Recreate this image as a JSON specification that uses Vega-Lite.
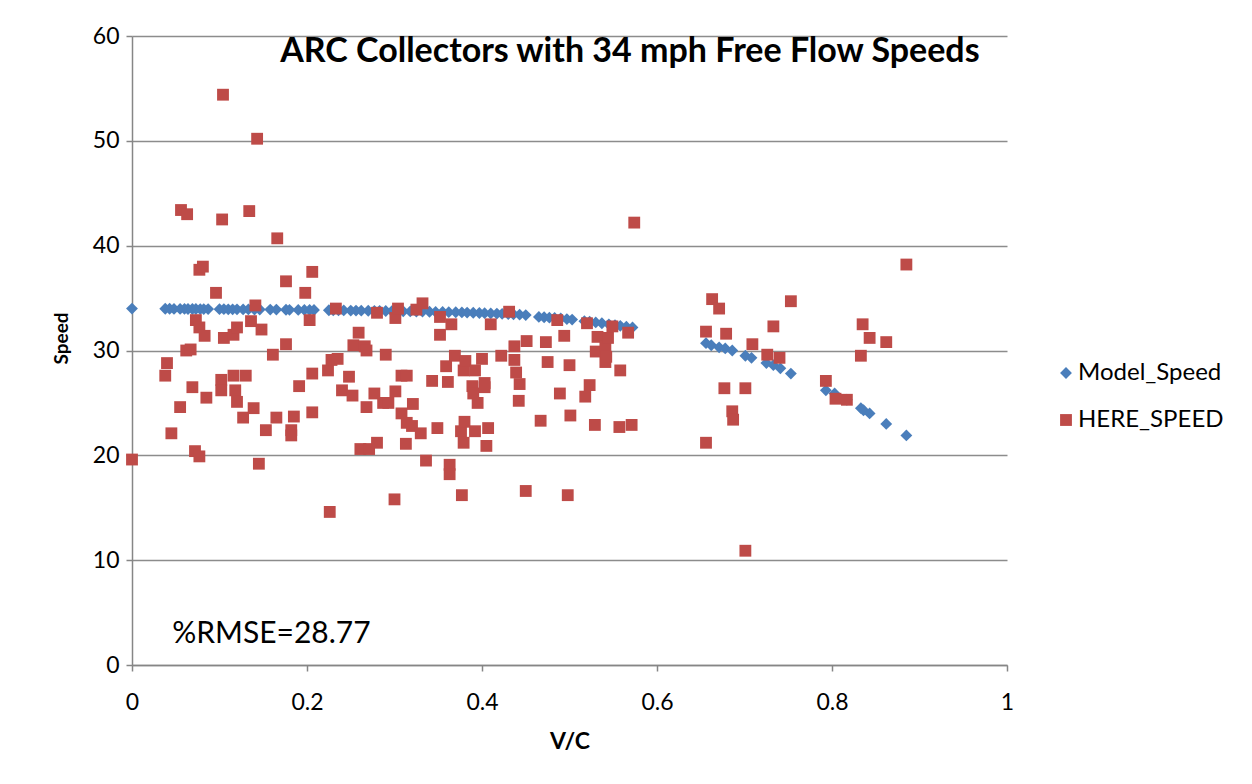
{
  "$schema": "https://vega.github.io/schema/vega-lite/v6.json",
  "width": 875,
  "height": 629,
  "autosize": {"type": "none"},
  "padding": {"left": 132, "top": 36, "right": 245, "bottom": 119},
  "background": "white",
  "config": {
    "view": {"stroke": null},
    "axis": {
      "labelFont": "Lato",
      "titleFont": "Lato",
      "labelFontSize": 23,
      "labelColor": "black",
      "titleFontSize": 21,
      "titleFontWeight": "bold",
      "titleColor": "black",
      "domainColor": "#868686",
      "domainWidth": 1.5,
      "tickColor": "#868686",
      "tickWidth": 1.5,
      "tickSize": 6,
      "gridColor": "#8c8c8c",
      "gridWidth": 1.5
    },
    "legend": {
      "labelFont": "Lato",
      "labelFontSize": 24,
      "labelColor": "black"
    }
  },
  "layer": [
    {
      "data": {
        "values": [
          {"vc": 0.0, "speed": 34.0, "series": "Model_Speed"},
          {"vc": 0.038, "speed": 33.98, "series": "Model_Speed"},
          {"vc": 0.043, "speed": 33.98, "series": "Model_Speed"},
          {"vc": 0.048, "speed": 33.97, "series": "Model_Speed"},
          {"vc": 0.055, "speed": 33.97, "series": "Model_Speed"},
          {"vc": 0.06, "speed": 33.97, "series": "Model_Speed"},
          {"vc": 0.064, "speed": 33.96, "series": "Model_Speed"},
          {"vc": 0.069, "speed": 33.96, "series": "Model_Speed"},
          {"vc": 0.073, "speed": 33.96, "series": "Model_Speed"},
          {"vc": 0.078, "speed": 33.95, "series": "Model_Speed"},
          {"vc": 0.082, "speed": 33.95, "series": "Model_Speed"},
          {"vc": 0.087, "speed": 33.95, "series": "Model_Speed"},
          {"vc": 0.1, "speed": 33.94, "series": "Model_Speed"},
          {"vc": 0.105, "speed": 33.94, "series": "Model_Speed"},
          {"vc": 0.11, "speed": 33.93, "series": "Model_Speed"},
          {"vc": 0.115, "speed": 33.93, "series": "Model_Speed"},
          {"vc": 0.12, "speed": 33.93, "series": "Model_Speed"},
          {"vc": 0.127, "speed": 33.92, "series": "Model_Speed"},
          {"vc": 0.133, "speed": 33.92, "series": "Model_Speed"},
          {"vc": 0.14, "speed": 33.91, "series": "Model_Speed"},
          {"vc": 0.146, "speed": 33.91, "series": "Model_Speed"},
          {"vc": 0.158, "speed": 33.9, "series": "Model_Speed"},
          {"vc": 0.165, "speed": 33.9, "series": "Model_Speed"},
          {"vc": 0.176, "speed": 33.89, "series": "Model_Speed"},
          {"vc": 0.18, "speed": 33.88, "series": "Model_Speed"},
          {"vc": 0.19, "speed": 33.87, "series": "Model_Speed"},
          {"vc": 0.197, "speed": 33.87, "series": "Model_Speed"},
          {"vc": 0.203, "speed": 33.86, "series": "Model_Speed"},
          {"vc": 0.208, "speed": 33.86, "series": "Model_Speed"},
          {"vc": 0.225, "speed": 33.84, "series": "Model_Speed"},
          {"vc": 0.23, "speed": 33.84, "series": "Model_Speed"},
          {"vc": 0.236, "speed": 33.83, "series": "Model_Speed"},
          {"vc": 0.242, "speed": 33.82, "series": "Model_Speed"},
          {"vc": 0.25, "speed": 33.81, "series": "Model_Speed"},
          {"vc": 0.256, "speed": 33.81, "series": "Model_Speed"},
          {"vc": 0.262, "speed": 33.8, "series": "Model_Speed"},
          {"vc": 0.27, "speed": 33.79, "series": "Model_Speed"},
          {"vc": 0.277, "speed": 33.78, "series": "Model_Speed"},
          {"vc": 0.283, "speed": 33.78, "series": "Model_Speed"},
          {"vc": 0.29, "speed": 33.77, "series": "Model_Speed"},
          {"vc": 0.297, "speed": 33.76, "series": "Model_Speed"},
          {"vc": 0.305, "speed": 33.75, "series": "Model_Speed"},
          {"vc": 0.31, "speed": 33.74, "series": "Model_Speed"},
          {"vc": 0.318, "speed": 33.73, "series": "Model_Speed"},
          {"vc": 0.325, "speed": 33.72, "series": "Model_Speed"},
          {"vc": 0.332, "speed": 33.71, "series": "Model_Speed"},
          {"vc": 0.34, "speed": 33.7, "series": "Model_Speed"},
          {"vc": 0.347, "speed": 33.68, "series": "Model_Speed"},
          {"vc": 0.355, "speed": 33.67, "series": "Model_Speed"},
          {"vc": 0.362, "speed": 33.66, "series": "Model_Speed"},
          {"vc": 0.37, "speed": 33.65, "series": "Model_Speed"},
          {"vc": 0.377, "speed": 33.63, "series": "Model_Speed"},
          {"vc": 0.383, "speed": 33.62, "series": "Model_Speed"},
          {"vc": 0.39, "speed": 33.6, "series": "Model_Speed"},
          {"vc": 0.397, "speed": 33.58, "series": "Model_Speed"},
          {"vc": 0.403, "speed": 33.56, "series": "Model_Speed"},
          {"vc": 0.41, "speed": 33.54, "series": "Model_Speed"},
          {"vc": 0.417, "speed": 33.52, "series": "Model_Speed"},
          {"vc": 0.423, "speed": 33.5, "series": "Model_Speed"},
          {"vc": 0.43, "speed": 33.47, "series": "Model_Speed"},
          {"vc": 0.436, "speed": 33.45, "series": "Model_Speed"},
          {"vc": 0.443, "speed": 33.42, "series": "Model_Speed"},
          {"vc": 0.45, "speed": 33.38, "series": "Model_Speed"},
          {"vc": 0.465, "speed": 33.2, "series": "Model_Speed"},
          {"vc": 0.471, "speed": 33.17, "series": "Model_Speed"},
          {"vc": 0.477, "speed": 33.13, "series": "Model_Speed"},
          {"vc": 0.483, "speed": 33.1, "series": "Model_Speed"},
          {"vc": 0.49, "speed": 33.05, "series": "Model_Speed"},
          {"vc": 0.497, "speed": 33.0, "series": "Model_Speed"},
          {"vc": 0.503, "speed": 32.95, "series": "Model_Speed"},
          {"vc": 0.517, "speed": 32.8, "series": "Model_Speed"},
          {"vc": 0.523, "speed": 32.75, "series": "Model_Speed"},
          {"vc": 0.53, "speed": 32.68, "series": "Model_Speed"},
          {"vc": 0.537, "speed": 32.6, "series": "Model_Speed"},
          {"vc": 0.545, "speed": 32.5, "series": "Model_Speed"},
          {"vc": 0.552, "speed": 32.42, "series": "Model_Speed"},
          {"vc": 0.558, "speed": 32.35, "series": "Model_Speed"},
          {"vc": 0.565, "speed": 32.27, "series": "Model_Speed"},
          {"vc": 0.572, "speed": 32.2, "series": "Model_Speed"},
          {"vc": 0.656, "speed": 30.7, "series": "Model_Speed"},
          {"vc": 0.662, "speed": 30.5, "series": "Model_Speed"},
          {"vc": 0.671, "speed": 30.3, "series": "Model_Speed"},
          {"vc": 0.678, "speed": 30.2, "series": "Model_Speed"},
          {"vc": 0.686, "speed": 30.0, "series": "Model_Speed"},
          {"vc": 0.701, "speed": 29.5, "series": "Model_Speed"},
          {"vc": 0.708, "speed": 29.3, "series": "Model_Speed"},
          {"vc": 0.725, "speed": 28.8, "series": "Model_Speed"},
          {"vc": 0.733, "speed": 28.6, "series": "Model_Speed"},
          {"vc": 0.741, "speed": 28.3, "series": "Model_Speed"},
          {"vc": 0.753, "speed": 27.8, "series": "Model_Speed"},
          {"vc": 0.793, "speed": 26.2, "series": "Model_Speed"},
          {"vc": 0.803, "speed": 25.9, "series": "Model_Speed"},
          {"vc": 0.817, "speed": 25.3, "series": "Model_Speed"},
          {"vc": 0.833, "speed": 24.5, "series": "Model_Speed"},
          {"vc": 0.836, "speed": 24.3, "series": "Model_Speed"},
          {"vc": 0.843, "speed": 24.0, "series": "Model_Speed"},
          {"vc": 0.862, "speed": 23.0, "series": "Model_Speed"},
          {"vc": 0.885, "speed": 21.9, "series": "Model_Speed"},
          {"vc": 0.0, "speed": 19.6, "series": "HERE_SPEED"},
          {"vc": 0.038, "speed": 27.6, "series": "HERE_SPEED"},
          {"vc": 0.04, "speed": 28.8, "series": "HERE_SPEED"},
          {"vc": 0.045, "speed": 22.1, "series": "HERE_SPEED"},
          {"vc": 0.055, "speed": 24.6, "series": "HERE_SPEED"},
          {"vc": 0.056, "speed": 43.4, "series": "HERE_SPEED"},
          {"vc": 0.062, "speed": 30.0, "series": "HERE_SPEED"},
          {"vc": 0.063, "speed": 43.0, "series": "HERE_SPEED"},
          {"vc": 0.067, "speed": 30.1, "series": "HERE_SPEED"},
          {"vc": 0.069, "speed": 26.5, "series": "HERE_SPEED"},
          {"vc": 0.072, "speed": 20.4, "series": "HERE_SPEED"},
          {"vc": 0.073, "speed": 32.9, "series": "HERE_SPEED"},
          {"vc": 0.077, "speed": 37.7, "series": "HERE_SPEED"},
          {"vc": 0.077, "speed": 32.2, "series": "HERE_SPEED"},
          {"vc": 0.077, "speed": 19.9, "series": "HERE_SPEED"},
          {"vc": 0.081, "speed": 38.0, "series": "HERE_SPEED"},
          {"vc": 0.083, "speed": 31.4, "series": "HERE_SPEED"},
          {"vc": 0.085, "speed": 25.5, "series": "HERE_SPEED"},
          {"vc": 0.096, "speed": 35.5, "series": "HERE_SPEED"},
          {"vc": 0.102, "speed": 27.2, "series": "HERE_SPEED"},
          {"vc": 0.102, "speed": 26.2, "series": "HERE_SPEED"},
          {"vc": 0.103, "speed": 42.5, "series": "HERE_SPEED"},
          {"vc": 0.104, "speed": 54.4, "series": "HERE_SPEED"},
          {"vc": 0.105, "speed": 31.2, "series": "HERE_SPEED"},
          {"vc": 0.116, "speed": 31.5, "series": "HERE_SPEED"},
          {"vc": 0.116, "speed": 27.6, "series": "HERE_SPEED"},
          {"vc": 0.118, "speed": 26.2, "series": "HERE_SPEED"},
          {"vc": 0.12, "speed": 32.2, "series": "HERE_SPEED"},
          {"vc": 0.12, "speed": 25.1, "series": "HERE_SPEED"},
          {"vc": 0.127, "speed": 23.6, "series": "HERE_SPEED"},
          {"vc": 0.13, "speed": 27.6, "series": "HERE_SPEED"},
          {"vc": 0.134, "speed": 43.3, "series": "HERE_SPEED"},
          {"vc": 0.136, "speed": 32.8, "series": "HERE_SPEED"},
          {"vc": 0.139, "speed": 24.5, "series": "HERE_SPEED"},
          {"vc": 0.141, "speed": 34.3, "series": "HERE_SPEED"},
          {"vc": 0.143, "speed": 50.2, "series": "HERE_SPEED"},
          {"vc": 0.145, "speed": 19.2, "series": "HERE_SPEED"},
          {"vc": 0.148, "speed": 32.0, "series": "HERE_SPEED"},
          {"vc": 0.153, "speed": 22.4, "series": "HERE_SPEED"},
          {"vc": 0.161, "speed": 29.6, "series": "HERE_SPEED"},
          {"vc": 0.165, "speed": 23.6, "series": "HERE_SPEED"},
          {"vc": 0.166, "speed": 40.7, "series": "HERE_SPEED"},
          {"vc": 0.176, "speed": 36.6, "series": "HERE_SPEED"},
          {"vc": 0.176, "speed": 30.6, "series": "HERE_SPEED"},
          {"vc": 0.182, "speed": 22.4, "series": "HERE_SPEED"},
          {"vc": 0.182, "speed": 21.9, "series": "HERE_SPEED"},
          {"vc": 0.185, "speed": 23.7, "series": "HERE_SPEED"},
          {"vc": 0.191, "speed": 26.6, "series": "HERE_SPEED"},
          {"vc": 0.198, "speed": 35.5, "series": "HERE_SPEED"},
          {"vc": 0.203, "speed": 32.9, "series": "HERE_SPEED"},
          {"vc": 0.206, "speed": 37.5, "series": "HERE_SPEED"},
          {"vc": 0.206, "speed": 27.8, "series": "HERE_SPEED"},
          {"vc": 0.206, "speed": 24.1, "series": "HERE_SPEED"},
          {"vc": 0.224, "speed": 28.1, "series": "HERE_SPEED"},
          {"vc": 0.226, "speed": 14.6, "series": "HERE_SPEED"},
          {"vc": 0.228, "speed": 29.1, "series": "HERE_SPEED"},
          {"vc": 0.233, "speed": 34.0, "series": "HERE_SPEED"},
          {"vc": 0.235, "speed": 29.2, "series": "HERE_SPEED"},
          {"vc": 0.24, "speed": 26.2, "series": "HERE_SPEED"},
          {"vc": 0.248, "speed": 27.5, "series": "HERE_SPEED"},
          {"vc": 0.252, "speed": 25.7, "series": "HERE_SPEED"},
          {"vc": 0.253, "speed": 30.5, "series": "HERE_SPEED"},
          {"vc": 0.259, "speed": 31.7, "series": "HERE_SPEED"},
          {"vc": 0.261, "speed": 20.6, "series": "HERE_SPEED"},
          {"vc": 0.266, "speed": 30.4, "series": "HERE_SPEED"},
          {"vc": 0.268, "speed": 30.0, "series": "HERE_SPEED"},
          {"vc": 0.268, "speed": 24.6, "series": "HERE_SPEED"},
          {"vc": 0.271, "speed": 20.6, "series": "HERE_SPEED"},
          {"vc": 0.277, "speed": 25.9, "series": "HERE_SPEED"},
          {"vc": 0.28, "speed": 33.6, "series": "HERE_SPEED"},
          {"vc": 0.28, "speed": 21.2, "series": "HERE_SPEED"},
          {"vc": 0.287, "speed": 25.0, "series": "HERE_SPEED"},
          {"vc": 0.29, "speed": 29.6, "series": "HERE_SPEED"},
          {"vc": 0.293, "speed": 25.0, "series": "HERE_SPEED"},
          {"vc": 0.3, "speed": 15.8, "series": "HERE_SPEED"},
          {"vc": 0.301, "speed": 33.1, "series": "HERE_SPEED"},
          {"vc": 0.301, "speed": 26.1, "series": "HERE_SPEED"},
          {"vc": 0.304, "speed": 34.0, "series": "HERE_SPEED"},
          {"vc": 0.308, "speed": 27.6, "series": "HERE_SPEED"},
          {"vc": 0.308, "speed": 24.0, "series": "HERE_SPEED"},
          {"vc": 0.313, "speed": 21.1, "series": "HERE_SPEED"},
          {"vc": 0.314, "speed": 27.6, "series": "HERE_SPEED"},
          {"vc": 0.314, "speed": 23.1, "series": "HERE_SPEED"},
          {"vc": 0.32, "speed": 22.8, "series": "HERE_SPEED"},
          {"vc": 0.321, "speed": 24.9, "series": "HERE_SPEED"},
          {"vc": 0.325, "speed": 33.9, "series": "HERE_SPEED"},
          {"vc": 0.33, "speed": 22.1, "series": "HERE_SPEED"},
          {"vc": 0.332, "speed": 34.5, "series": "HERE_SPEED"},
          {"vc": 0.336, "speed": 19.5, "series": "HERE_SPEED"},
          {"vc": 0.343, "speed": 27.1, "series": "HERE_SPEED"},
          {"vc": 0.349, "speed": 22.6, "series": "HERE_SPEED"},
          {"vc": 0.352, "speed": 33.2, "series": "HERE_SPEED"},
          {"vc": 0.352, "speed": 31.5, "series": "HERE_SPEED"},
          {"vc": 0.359, "speed": 28.5, "series": "HERE_SPEED"},
          {"vc": 0.361, "speed": 27.0, "series": "HERE_SPEED"},
          {"vc": 0.363, "speed": 19.1, "series": "HERE_SPEED"},
          {"vc": 0.363, "speed": 18.2, "series": "HERE_SPEED"},
          {"vc": 0.365, "speed": 32.5, "series": "HERE_SPEED"},
          {"vc": 0.369, "speed": 29.5, "series": "HERE_SPEED"},
          {"vc": 0.376, "speed": 22.3, "series": "HERE_SPEED"},
          {"vc": 0.377, "speed": 16.2, "series": "HERE_SPEED"},
          {"vc": 0.379, "speed": 28.1, "series": "HERE_SPEED"},
          {"vc": 0.379, "speed": 21.2, "series": "HERE_SPEED"},
          {"vc": 0.38, "speed": 23.2, "series": "HERE_SPEED"},
          {"vc": 0.381, "speed": 29.0, "series": "HERE_SPEED"},
          {"vc": 0.389, "speed": 26.6, "series": "HERE_SPEED"},
          {"vc": 0.39, "speed": 25.9, "series": "HERE_SPEED"},
          {"vc": 0.392, "speed": 28.1, "series": "HERE_SPEED"},
          {"vc": 0.392, "speed": 22.3, "series": "HERE_SPEED"},
          {"vc": 0.395, "speed": 25.0, "series": "HERE_SPEED"},
          {"vc": 0.4, "speed": 29.2, "series": "HERE_SPEED"},
          {"vc": 0.403, "speed": 26.9, "series": "HERE_SPEED"},
          {"vc": 0.403, "speed": 26.5, "series": "HERE_SPEED"},
          {"vc": 0.405, "speed": 20.9, "series": "HERE_SPEED"},
          {"vc": 0.407, "speed": 22.6, "series": "HERE_SPEED"},
          {"vc": 0.41, "speed": 32.5, "series": "HERE_SPEED"},
          {"vc": 0.422, "speed": 29.5, "series": "HERE_SPEED"},
          {"vc": 0.431, "speed": 33.7, "series": "HERE_SPEED"},
          {"vc": 0.437, "speed": 30.4, "series": "HERE_SPEED"},
          {"vc": 0.437, "speed": 29.1, "series": "HERE_SPEED"},
          {"vc": 0.439, "speed": 27.9, "series": "HERE_SPEED"},
          {"vc": 0.442, "speed": 25.2, "series": "HERE_SPEED"},
          {"vc": 0.443, "speed": 26.8, "series": "HERE_SPEED"},
          {"vc": 0.45, "speed": 16.6, "series": "HERE_SPEED"},
          {"vc": 0.451, "speed": 30.9, "series": "HERE_SPEED"},
          {"vc": 0.467, "speed": 23.3, "series": "HERE_SPEED"},
          {"vc": 0.473, "speed": 30.8, "series": "HERE_SPEED"},
          {"vc": 0.475, "speed": 28.9, "series": "HERE_SPEED"},
          {"vc": 0.486, "speed": 32.9, "series": "HERE_SPEED"},
          {"vc": 0.489, "speed": 25.9, "series": "HERE_SPEED"},
          {"vc": 0.494, "speed": 31.4, "series": "HERE_SPEED"},
          {"vc": 0.498, "speed": 16.2, "series": "HERE_SPEED"},
          {"vc": 0.5, "speed": 28.6, "series": "HERE_SPEED"},
          {"vc": 0.501, "speed": 23.8, "series": "HERE_SPEED"},
          {"vc": 0.518, "speed": 25.6, "series": "HERE_SPEED"},
          {"vc": 0.52, "speed": 32.6, "series": "HERE_SPEED"},
          {"vc": 0.523, "speed": 26.7, "series": "HERE_SPEED"},
          {"vc": 0.529, "speed": 22.9, "series": "HERE_SPEED"},
          {"vc": 0.53, "speed": 29.9, "series": "HERE_SPEED"},
          {"vc": 0.532, "speed": 31.3, "series": "HERE_SPEED"},
          {"vc": 0.541, "speed": 30.4, "series": "HERE_SPEED"},
          {"vc": 0.541, "speed": 28.9, "series": "HERE_SPEED"},
          {"vc": 0.542, "speed": 29.4, "series": "HERE_SPEED"},
          {"vc": 0.544, "speed": 31.2, "series": "HERE_SPEED"},
          {"vc": 0.549, "speed": 32.3, "series": "HERE_SPEED"},
          {"vc": 0.557, "speed": 22.7, "series": "HERE_SPEED"},
          {"vc": 0.558, "speed": 28.1, "series": "HERE_SPEED"},
          {"vc": 0.567, "speed": 31.7, "series": "HERE_SPEED"},
          {"vc": 0.571, "speed": 22.9, "series": "HERE_SPEED"},
          {"vc": 0.574, "speed": 42.2, "series": "HERE_SPEED"},
          {"vc": 0.656, "speed": 31.8, "series": "HERE_SPEED"},
          {"vc": 0.656, "speed": 21.2, "series": "HERE_SPEED"},
          {"vc": 0.663, "speed": 34.9, "series": "HERE_SPEED"},
          {"vc": 0.671, "speed": 34.0, "series": "HERE_SPEED"},
          {"vc": 0.677, "speed": 26.4, "series": "HERE_SPEED"},
          {"vc": 0.679, "speed": 31.6, "series": "HERE_SPEED"},
          {"vc": 0.686, "speed": 24.2, "series": "HERE_SPEED"},
          {"vc": 0.687, "speed": 23.4, "series": "HERE_SPEED"},
          {"vc": 0.701, "speed": 26.4, "series": "HERE_SPEED"},
          {"vc": 0.701, "speed": 10.9, "series": "HERE_SPEED"},
          {"vc": 0.709, "speed": 30.6, "series": "HERE_SPEED"},
          {"vc": 0.726, "speed": 29.6, "series": "HERE_SPEED"},
          {"vc": 0.733, "speed": 32.3, "series": "HERE_SPEED"},
          {"vc": 0.74, "speed": 29.3, "series": "HERE_SPEED"},
          {"vc": 0.753, "speed": 34.7, "series": "HERE_SPEED"},
          {"vc": 0.793, "speed": 27.1, "series": "HERE_SPEED"},
          {"vc": 0.804, "speed": 25.4, "series": "HERE_SPEED"},
          {"vc": 0.817, "speed": 25.3, "series": "HERE_SPEED"},
          {"vc": 0.833, "speed": 29.5, "series": "HERE_SPEED"},
          {"vc": 0.835, "speed": 32.5, "series": "HERE_SPEED"},
          {"vc": 0.843, "speed": 31.2, "series": "HERE_SPEED"},
          {"vc": 0.862, "speed": 30.8, "series": "HERE_SPEED"},
          {"vc": 0.885, "speed": 38.2, "series": "HERE_SPEED"}
        ]
      },
      "mark": {"type": "point", "filled": true, "opacity": 1, "size": 140},
      "encoding": {
        "x": {
          "field": "vc",
          "type": "quantitative",
          "title": "V/C",
          "scale": {"domain": [0, 1], "nice": false, "zero": false},
          "axis": {
            "values": [0, 0.2, 0.4, 0.6, 0.8, 1],
            "format": "~g",
            "grid": false,
            "labelFlush": false,
            "labelPadding": 20,
            "titlePadding": 16,
            "titleFontSize": 23
          }
        },
        "y": {
          "field": "speed",
          "type": "quantitative",
          "title": "Speed",
          "scale": {"domain": [0, 60], "nice": false},
          "axis": {
            "values": [0, 10, 20, 30, 40, 50, 60],
            "grid": true,
            "labelPadding": 7,
            "titlePadding": 21,
            "titleFontSize": 19,
            "titleY": 302
          }
        },
        "color": {
          "field": "series",
          "type": "nominal",
          "scale": {"domain": ["Model_Speed", "HERE_SPEED"], "range": ["#4A7EBB", "#BE4B48"]},
          "legend": {
            "title": null,
            "orient": "none",
            "legendX": 922,
            "legendY": 325,
            "rowPadding": 23,
            "labelOffset": 0,
            "symbolSize": 140,
            "symbolOpacity": 1
          }
        },
        "shape": {
          "field": "series",
          "type": "nominal",
          "scale": {"domain": ["Model_Speed", "HERE_SPEED"], "range": ["diamond", "square"]},
          "legend": null
        },
        "order": {"field": "series", "type": "nominal", "sort": "descending"}
      }
    },
    {
      "data": {"values": [{"vc": 0.046, "speed": 3.0, "label": "%RMSE=28.77"}]},
      "mark": {"type": "text", "align": "left", "baseline": "middle", "font": "Lato", "fontSize": 30, "color": "black"},
      "encoding": {
        "x": {"field": "vc", "type": "quantitative"},
        "y": {"field": "speed", "type": "quantitative"},
        "text": {"field": "label", "type": "nominal"}
      }
    },
    {
      "data": {"values": [{"vc": 0.569, "speed": 57.5, "label": "ARC Collectors with 34 mph Free Flow Speeds"}]},
      "mark": {"type": "text", "align": "center", "baseline": "alphabetic", "font": "Lato", "fontSize": 34, "fontWeight": "bold", "color": "black"},
      "encoding": {
        "x": {"field": "vc", "type": "quantitative"},
        "y": {"field": "speed", "type": "quantitative"},
        "text": {"field": "label", "type": "nominal"}
      }
    }
  ]
}
